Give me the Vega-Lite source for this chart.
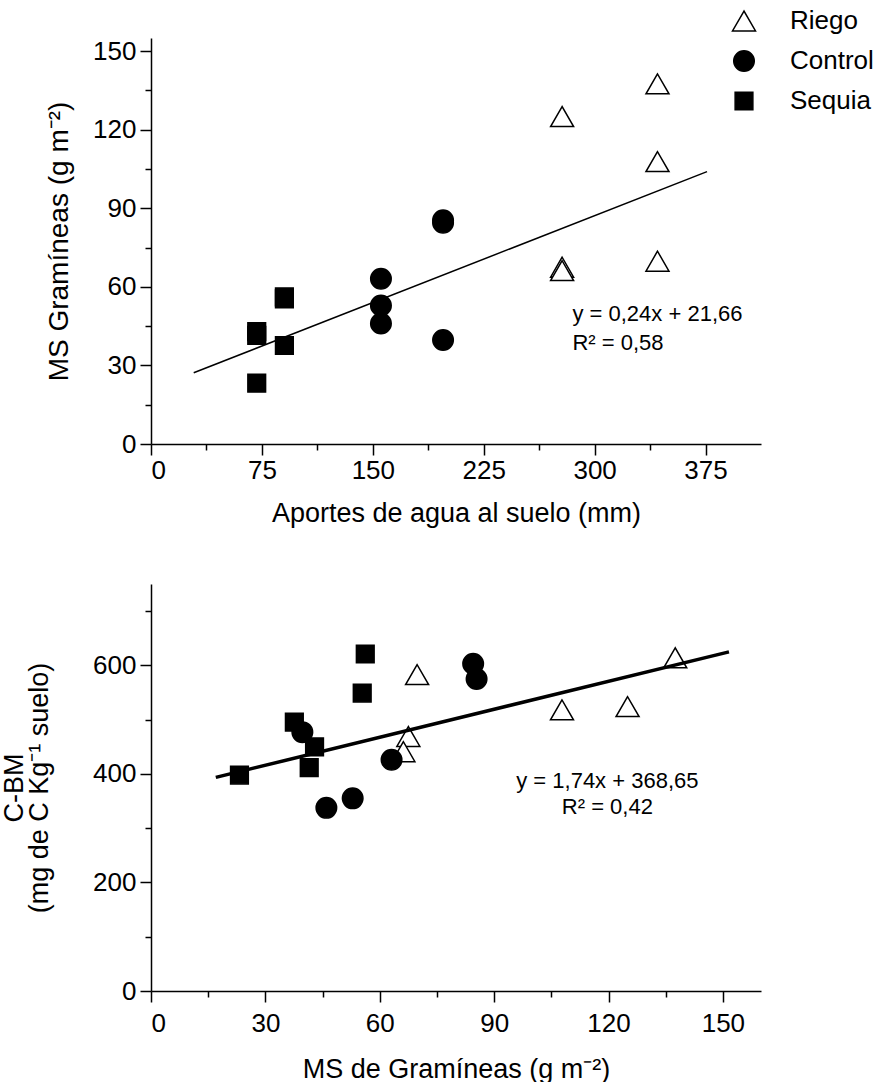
{
  "$schema": "https://vega.github.io/schema/vega-lite/v6.json",
  "background": "white",
  "padding": {"left": 0, "top": 8, "right": 0, "bottom": 0},
  "config": {
    "view": {"stroke": null},
    "font": "Liberation Sans",
    "axis": {
      "grid": false,
      "domainColor": "black",
      "domainWidth": 1.5,
      "tickColor": "black",
      "tickWidth": 1.5,
      "labelColor": "black",
      "titleColor": "black",
      "labelFont": "Liberation Sans",
      "titleFont": "Liberation Sans",
      "labelFontSize": 26,
      "titleFontSize": 27,
      "titleFontWeight": "normal"
    },
    "legend": {
      "title": null,
      "labelFontSize": 26,
      "labelFont": "Liberation Sans",
      "labelColor": "black",
      "labelOffset": 33,
      "rowPadding": 13,
      "symbolStrokeColor": "black",
      "symbolStrokeWidth": 1.5,
      "padding": 0
    }
  },
  "datasets": {
    "pts": [
      {"grupo": "Riego", "aporte": 278, "ms": 125, "cbm": 524},
      {"grupo": "Riego", "aporte": 278, "ms": 67.5, "cbm": 469},
      {"grupo": "Riego", "aporte": 278, "ms": 66.2, "cbm": 441},
      {"grupo": "Riego", "aporte": 342.5, "ms": 137.5, "cbm": 614},
      {"grupo": "Riego", "aporte": 342.5, "ms": 107.8, "cbm": 518},
      {"grupo": "Riego", "aporte": 342.5, "ms": 69.8, "cbm": 583},
      {"grupo": "Control", "aporte": 197.5, "ms": 39.7, "cbm": 477},
      {"grupo": "Control", "aporte": 155.5, "ms": 46, "cbm": 337.5},
      {"grupo": "Control", "aporte": 155.5, "ms": 52.9, "cbm": 355},
      {"grupo": "Control", "aporte": 155.5, "ms": 63.1, "cbm": 426},
      {"grupo": "Control", "aporte": 197.5, "ms": 84.5, "cbm": 603},
      {"grupo": "Control", "aporte": 197.5, "ms": 85.4, "cbm": 575},
      {"grupo": "Sequia", "aporte": 71.5, "ms": 23.2, "cbm": 398},
      {"grupo": "Sequia", "aporte": 71.5, "ms": 41.5, "cbm": 411.5},
      {"grupo": "Sequia", "aporte": 71.5, "ms": 42.9, "cbm": 450},
      {"grupo": "Sequia", "aporte": 90.2, "ms": 37.6, "cbm": 495.5},
      {"grupo": "Sequia", "aporte": 90.2, "ms": 55.4, "cbm": 549},
      {"grupo": "Sequia", "aporte": 90.2, "ms": 56.2, "cbm": 621}
    ],
    "line1": [
      {"aporte": 28.9, "ms": 27.2},
      {"aporte": 376, "ms": 104}
    ],
    "line2": [
      {"ms": 17, "cbm": 393.6},
      {"ms": 151.6, "cbm": 625}
    ],
    "txt1": [
      {"aporte": 285, "ms": 46.8, "t": "y = 0,24x + 21,66"},
      {"aporte": 285, "ms": 36.0, "t": "R² = 0,58"}
    ],
    "txt2": [
      {"ms": 119.7, "cbm": 373.5, "t": "y = 1,74x + 368,65"},
      {"ms": 119.7, "cbm": 327, "t": "R² = 0,42"}
    ]
  },
  "spacing": 58,
  "resolve": {"legend": {"shape": "independent", "fill": "independent", "size": "independent", "stroke": "independent"}},
  "vconcat": [
    {
      "width": 610,
      "height": 406,
      "layer": [
        {
          "data": {"name": "pts"},
          "mark": {"type": "point", "filled": true, "strokeWidth": 1.5, "opacity": 1},
          "encoding": {
            "x": {
              "field": "aporte", "type": "quantitative",
              "scale": {"domain": [0, 412.5], "nice": false, "zero": false},
              "axis": {
                "title": "Aportes de agua al suelo (mm)",
                "values": [0, 37.5, 75, 112.5, 150, 187.5, 225, 262.5, 300, 337.5, 375],
                "labelExpr": "datum.value % 75 === 0 ? datum.label : ''",
                "tickSize": {"condition": {"test": "datum.value % 75 === 0", "value": 11}, "value": 6},
                "labelPadding": 2,
                "titlePadding": 17
              }
            },
            "y": {
              "field": "ms", "type": "quantitative",
              "scale": {"domain": [0, 155], "nice": false, "zero": false},
              "axis": {
                "title": "MS Gramíneas (g m⁻²)",
                "titleFontSize": 28,
                "values": [0, 15, 30, 45, 60, 75, 90, 105, 120, 135, 150],
                "labelExpr": "datum.value % 30 === 0 ? datum.label : ''",
                "tickSize": {"condition": {"test": "datum.value % 30 === 0", "value": 11}, "value": 6},
                "labelPadding": 4,
                "titlePadding": 19
              }
            },
            "shape": {
              "field": "grupo", "type": "nominal",
              "scale": {"domain": ["Riego", "Control", "Sequia"], "range": ["triangle-up", "circle", "square"]},
              "legend": {"orient": "none", "legendX": 580, "legendY": -30}
            },
            "fill": {
              "field": "grupo", "type": "nominal",
              "scale": {"domain": ["Riego", "Control", "Sequia"], "range": ["white", "black", "black"]},
              "legend": {"orient": "none", "legendX": 580, "legendY": -30}
            },
            "stroke": {
              "field": "grupo", "type": "nominal",
              "scale": {"domain": ["Riego", "Control", "Sequia"], "range": ["black", "black", "black"]},
              "legend": {"orient": "none", "legendX": 580, "legendY": -30}
            },
            "size": {
              "field": "grupo", "type": "nominal",
              "scale": {"domain": ["Riego", "Control", "Sequia"], "range": [529, 314, 400]},
              "legend": {"orient": "none", "legendX": 580, "legendY": -30}
            }
          }
        },
        {
          "data": {"name": "line1"},
          "mark": {"type": "line", "color": "black", "strokeWidth": 1.5},
          "encoding": {
            "x": {"field": "aporte", "type": "quantitative"},
            "y": {"field": "ms", "type": "quantitative"}
          }
        },
        {
          "data": {"name": "txt1"},
          "mark": {"type": "text", "align": "left", "baseline": "alphabetic", "fontSize": 22, "font": "Liberation Sans", "color": "black"},
          "encoding": {
            "x": {"field": "aporte", "type": "quantitative"},
            "y": {"field": "ms", "type": "quantitative"},
            "text": {"field": "t", "type": "nominal"}
          }
        }
      ]
    },
    {
      "width": 610,
      "height": 407,
      "layer": [
        {
          "data": {"name": "pts"},
          "mark": {"type": "point", "filled": true, "strokeWidth": 1.5, "opacity": 1},
          "encoding": {
            "x": {
              "field": "ms", "type": "quantitative",
              "scale": {"domain": [0, 160], "nice": false, "zero": false},
              "axis": {
                "title": "MS de Gramíneas (g m⁻²)",
                "values": [0, 15, 30, 45, 60, 75, 90, 105, 120, 135, 150],
                "labelExpr": "datum.value % 30 === 0 ? datum.label : ''",
                "tickSize": {"condition": {"test": "datum.value % 30 === 0", "value": 11}, "value": 6},
                "labelPadding": 8,
                "titlePadding": 20
              }
            },
            "y": {
              "field": "cbm", "type": "quantitative",
              "scale": {"domain": [0, 750], "nice": false, "zero": false},
              "axis": {
                "title": ["C-BM", "(mg de C Kg⁻¹ suelo)"],
                "titleFontSize": 27,
                "titleLineHeight": 25,
                "values": [0, 100, 200, 300, 400, 500, 600, 700],
                "labelExpr": "datum.value % 200 === 0 ? datum.label : ''",
                "tickSize": {"condition": {"test": "datum.value % 200 === 0", "value": 11}, "value": 6},
                "labelPadding": 4,
                "titlePadding": 39
              }
            },
            "shape": {
              "field": "grupo", "type": "nominal",
              "scale": {"domain": ["Riego", "Control", "Sequia"], "range": ["triangle-up", "circle", "square"]},
              "legend": null
            },
            "fill": {
              "field": "grupo", "type": "nominal",
              "scale": {"domain": ["Riego", "Control", "Sequia"], "range": ["white", "black", "black"]},
              "legend": null
            },
            "stroke": {
              "field": "grupo", "type": "nominal",
              "scale": {"domain": ["Riego", "Control", "Sequia"], "range": ["black", "black", "black"]},
              "legend": null
            },
            "size": {
              "field": "grupo", "type": "nominal",
              "scale": {"domain": ["Riego", "Control", "Sequia"], "range": [529, 314, 400]},
              "legend": null
            }
          }
        },
        {
          "data": {"name": "line2"},
          "mark": {"type": "line", "color": "black", "strokeWidth": 3.5},
          "encoding": {
            "x": {"field": "ms", "type": "quantitative"},
            "y": {"field": "cbm", "type": "quantitative"}
          }
        },
        {
          "data": {"name": "txt2"},
          "mark": {"type": "text", "align": "center", "baseline": "alphabetic", "fontSize": 22, "font": "Liberation Sans", "color": "black"},
          "encoding": {
            "x": {"field": "ms", "type": "quantitative"},
            "y": {"field": "cbm", "type": "quantitative"},
            "text": {"field": "t", "type": "nominal"}
          }
        }
      ]
    }
  ]
}
